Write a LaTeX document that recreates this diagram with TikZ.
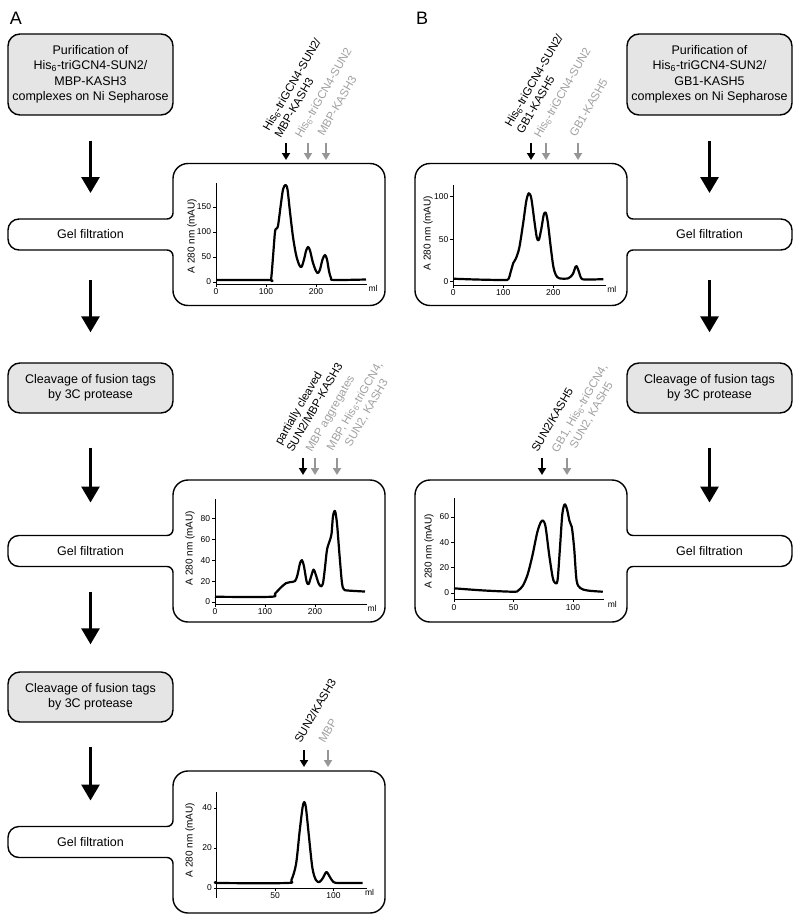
\documentclass[tikz,border=0pt]{standalone}
\usepackage{fontspec}
\setmainfont{Liberation Sans}
\usetikzlibrary{arrows.meta,calc,positioning}
\definecolor{boxgray}{RGB}{229,229,229}
\definecolor{taggray}{RGB}{160,160,160}
\definecolor{pkgray}{RGB}{150,150,150}

\begin{document}
\begin{tikzpicture}[x=1pt, y=-1pt,
    stepbox/.style={draw, fill=boxgray, line width=1.4pt, rounded corners=12pt, minimum width=165pt, minimum height=81pt, inner sep=0pt, align=center, font=\fontsize{12.5}{15.5}\selectfont},
    gelbox/.style={minimum width=165pt, minimum height=31pt, inner sep=0pt, outer sep=0pt, font=\fontsize{12.5}{15.5}\selectfont},
    chartbox/.style={minimum width=212pt, minimum height=142pt, inner sep=0pt, outer sep=0pt},
    outline/.style={line width=1.4pt},
    flow/.style={line width=3pt, -{Triangle[width=18pt,length=16pt]}},
    peak/.style={line width=2pt, -{Triangle[width=8pt,length=7pt]}},
    peaklab/.style={rotate=60, inner sep=0pt, font=\fontsize{11.5}{13.5}\selectfont},
    axisline/.style={line width=0.9pt},
    trace/.style={line width=2.2pt, line join=round},
    ticklab/.style={font=\fontsize{8.5}{10}\selectfont, inner sep=1.5pt},
    axlabel/.style={rotate=90, inner sep=0pt, font=\fontsize{10}{12}\selectfont},
    panellab/.style={font=\fontsize{18}{20}\selectfont}]
  \useasboundingbox (0,0) rectangle (800,923);

  \node[panellab] (labA) at (16,18) {A};
  \node[panellab] (labB) at (422,18) {B};

  % column A
  \node[stepbox] (purA) at (90.5,74.5) {Purification of\\His\textsubscript{6}-triGCN4-SUN2/\\MBP-KASH3\\complexes on Ni Sepharose};
  \node[gelbox] (gelA1) at (90.5,234.5) {Gel filtration};
  \node[chartbox, right=0pt of gelA1] (chartA1) {};
  \node[stepbox, minimum height=50pt] (cutA1) at (90.5,388) {Cleavage of fusion tags\\by 3C protease};
  \node[gelbox] (gelA2) at (90.5,551) {Gel filtration};
  \node[chartbox, right=0pt of gelA2] (chartA2) {};
  \node[stepbox, minimum height=50pt] (cutA2) at (90.5,697) {Cleavage of fusion tags\\by 3C protease};
  \node[gelbox] (gelA3) at (90.5,842) {Gel filtration};
  \node[chartbox, right=0pt of gelA3] (chartA3) {};

  % column B
  \node[stepbox] (purB) at (709.5,74.5) {Purification of\\His\textsubscript{6}-triGCN4-SUN2/\\GB1-KASH5\\complexes on Ni Sepharose};
  \node[gelbox] (gelB1) at (709.5,234.5) {Gel filtration};
  \node[chartbox, left=0pt of gelB1] (chartB1) {};
  \node[stepbox, minimum height=50pt] (cutB) at (709.5,388) {Cleavage of fusion tags\\by 3C protease};
  \node[gelbox] (gelB2) at (709.5,551) {Gel filtration};
  \node[chartbox, left=0pt of gelB2] (chartB2) {};

  % outlines of gel box + chart
  \draw[outline] (chartA1.north) [rounded corners=15pt] -- (chartA1.north east) -- (chartA1.south east) -- (chartA1.south west) -- ($(chartA1.south west)!.5!(chartA1.west |- gelA1.south)$) [rounded corners=6pt] -- (chartA1.west |- gelA1.south) -- (gelA1.south) [rounded corners=11pt] -- (gelA1.south west) -- (gelA1.north west) -- (gelA1.north) [rounded corners=6pt] -- (chartA1.west |- gelA1.north) -- ($(chartA1.north west)!.5!(chartA1.west |- gelA1.north)$) [rounded corners=15pt] -- (chartA1.north west) -- cycle;
  \draw[outline] (chartA2.north) [rounded corners=15pt] -- (chartA2.north east) -- (chartA2.south east) -- (chartA2.south west) -- ($(chartA2.south west)!.5!(chartA2.west |- gelA2.south)$) [rounded corners=6pt] -- (chartA2.west |- gelA2.south) -- (gelA2.south) [rounded corners=11pt] -- (gelA2.south west) -- (gelA2.north west) -- (gelA2.north) [rounded corners=6pt] -- (chartA2.west |- gelA2.north) -- ($(chartA2.north west)!.5!(chartA2.west |- gelA2.north)$) [rounded corners=15pt] -- (chartA2.north west) -- cycle;
  \draw[outline] (chartA3.north) [rounded corners=15pt] -- (chartA3.north east) -- (chartA3.south east) -- (chartA3.south west) -- ($(chartA3.south west)!.5!(chartA3.west |- gelA3.south)$) [rounded corners=6pt] -- (chartA3.west |- gelA3.south) -- (gelA3.south) [rounded corners=11pt] -- (gelA3.south west) -- (gelA3.north west) -- (gelA3.north) [rounded corners=6pt] -- (chartA3.west |- gelA3.north) -- ($(chartA3.north west)!.5!(chartA3.west |- gelA3.north)$) [rounded corners=15pt] -- (chartA3.north west) -- cycle;
  \draw[outline] (chartB1.north) [rounded corners=15pt] -- (chartB1.north east) -- ($(chartB1.north east)!.5!(chartB1.east |- gelB1.north)$) [rounded corners=6pt] -- (chartB1.east |- gelB1.north) -- (gelB1.north) [rounded corners=11pt] -- (gelB1.north east) -- (gelB1.south east) -- (gelB1.south) [rounded corners=6pt] -- (chartB1.east |- gelB1.south) -- ($(chartB1.south east)!.5!(chartB1.east |- gelB1.south)$) [rounded corners=15pt] -- (chartB1.south east) -- (chartB1.south west) -- (chartB1.north west) -- cycle;
  \draw[outline] (chartB2.north) [rounded corners=15pt] -- (chartB2.north east) -- ($(chartB2.north east)!.5!(chartB2.east |- gelB2.north)$) [rounded corners=6pt] -- (chartB2.east |- gelB2.north) -- (gelB2.north) [rounded corners=11pt] -- (gelB2.north east) -- (gelB2.south east) -- (gelB2.south) [rounded corners=6pt] -- (chartB2.east |- gelB2.south) -- ($(chartB2.south east)!.5!(chartB2.east |- gelB2.south)$) [rounded corners=15pt] -- (chartB2.south east) -- (chartB2.south west) -- (chartB2.north west) -- cycle;

  % flow arrows
  \draw[flow, shorten <=25pt, shorten >=26pt] (purA) -- (gelA1);
  \draw[flow, shorten <=30pt, shorten >=30pt] (gelA1) -- (cutA1);
  \draw[flow, shorten <=34pt, shorten >=33pt] (cutA1) -- (gelA2);
  \draw[flow, shorten <=25pt, shorten >=27pt] (gelA2) -- (cutA2);
  \draw[flow, shorten <=24pt, shorten >=26pt] (cutA2) -- (gelA3);
  \draw[flow, shorten <=25pt, shorten >=26pt] (purB) -- (gelB1);
  \draw[flow, shorten <=30pt, shorten >=30pt] (gelB1) -- (cutB);
  \draw[flow, shorten <=34pt, shorten >=33pt] (cutB) -- (gelB2);

  % chart A1
  \begin{scope}[shift={(216,282)}, x=0.5pt, y=0.5pt]
    \draw[axisline] (0,-4) -- (302,-4);
    \draw[axisline] (0,-4) -- (0,198);
    \foreach \v in {0,50,100,150}
      \draw[axisline] (0,\v) -- ++(-3pt,0pt) node[ticklab, left] (yA1-\v) {\v};
    \foreach \v in {0,100,200}
      \draw[axisline] (\v,-4) -- ++(0pt,-3pt) node[ticklab, below] (xA1-\v) {\v};
    \node[ticklab, below] (mlA1) at (314,-4) {ml};
    \draw[trace] plot[smooth, tension=0.5] coordinates {(0,4) (105,4) (110,5) (114,50) (118,100) (121,107) (124,112) (129,150) (134,185) (139,194) (143,185) (148,140) (154,90) (160,55) (166,35) (171,30) (176,45) (180,62) (184,70) (188,63) (194,38) (200,22) (204,18) (208,25) (213,45) (218,54) (222,45) (226,22) (230,8) (236,4) (300,5)};
  \end{scope}
  \node[axlabel] (ylA1) at (192,236) {A 280 nm (mAU)};

  % chart A2
  \begin{scope}[shift={(215,602)}, x=0.5pt, y=1.046pt]
    \draw[axisline] (0,-2) -- (304,-2);
    \draw[axisline] (0,-2) -- (0,98);
    \foreach \v in {0,20,40,60,80}
      \draw[axisline] (0,\v) -- ++(-3pt,0pt) node[ticklab, left] (yA2-\v) {\v};
    \foreach \v in {0,100,200}
      \draw[axisline] (\v,-2) -- ++(0pt,-3pt) node[ticklab, below] (xA2-\v) {\v};
    \node[ticklab, below] (mlA2) at (314,-2) {ml};
    \draw[trace] plot[smooth, tension=0.5] coordinates {(0,5) (112,5) (120,8) (132,14) (142,18) (150,19) (160,20) (165,26) (170,37) (174,40) (178,34) (183,20) (187,17) (192,24) (197,31) (201,27) (207,18) (212,15) (216,18) (220,33) (224,50) (229,58) (233,65) (236,82) (240,87) (244,75) (249,45) (254,18) (258,12) (265,11) (300,10)};
  \end{scope}
  \node[axlabel] (ylA2) at (190,548) {A 280 nm (mAU)};

  % chart A3
  \begin{scope}[shift={(216.7,888)}, x=1.167pt, y=2pt]
    \draw[axisline] (0,0) -- (129,0);
    \draw[axisline] (0,-5) -- (0,48);
    \foreach \v in {0,20,40}
      \draw[axisline] (0,\v) -- ++(-3pt,0pt) node[ticklab, left] (yA3-\v) {\v};
    \foreach \v in {50,100}
      \draw[axisline] (\v,0) -- ++(0pt,-3pt) node[ticklab, below] (xA3-\v) {\v};
    \node[ticklab, below] (mlA3) at (131,0) {ml};
    \draw[trace] plot[smooth, tension=0.5] coordinates {(0,3) (3,2.5) (60,2.5) (64,4) (68,12) (71,28) (73.5,40) (75,43) (76.5,40) (79,26) (82,10) (85,4) (88,3) (91,5) (94,8) (97,5.5) (100,3) (105,2.5) (125,2.5)};
  \end{scope}
  \node[axlabel] (ylA3) at (190,840) {A 280 nm (mAU)};

  % chart B1
  \begin{scope}[shift={(453.3,281.7)}, x=0.5pt, y=0.85pt]
    \draw[axisline] (0,-4) -- (306,-4);
    \draw[axisline] (0,-4) -- (0,114);
    \foreach \v in {0,50,100}
      \draw[axisline] (0,\v) -- ++(-3pt,0pt) node[ticklab, left] (yB1-\v) {\v};
    \foreach \v in {0,100,200}
      \draw[axisline] (\v,-4) -- ++(0pt,-3pt) node[ticklab, below] (xB1-\v) {\v};
    \node[ticklab, below] (mlB1) at (317,-4) {ml};
    \draw[trace] plot[smooth, tension=0.5] coordinates {(0,3.5) (50,2.5) (100,2) (110,3) (115,12) (120,22) (125,27) (132,40) (140,70) (146,95) (151,104) (156,98) (162,72) (167,52) (171,49) (176,62) (181,79) (185,81) (189,70) (195,40) (200,18) (205,8) (212,4) (230,4) (239,9) (244,17) (247,18) (251,12) (256,4) (265,2.5) (300,3)};
  \end{scope}
  \node[axlabel] (ylB1) at (428,233) {A 280 nm (mAU)};

  % chart B2
  \begin{scope}[shift={(454,593)}, x=1.19pt, y=1.267pt]
    \draw[axisline] (0,-5) -- (126,-5);
    \draw[axisline] (0,-5) -- (0,75);
    \foreach \v in {0,20,40,60}
      \draw[axisline] (0,\v) -- ++(-3pt,0pt) node[ticklab, left] (yB2-\v) {\v};
    \foreach \v in {0,50,100}
      \draw[axisline] (\v,-5) -- ++(0pt,-3pt) node[ticklab, below] (xB2-\v) {\v};
    \node[ticklab, below] (mlB2) at (133,-5) {ml};
    \draw[trace] plot[smooth, tension=0.5] coordinates {(0,3.7) (25,2) (50,1) (54,2) (58,6) (62,15) (66,30) (70,48) (73,56) (75,57) (77,52) (80,30) (83,12) (85,8) (87,10) (89,35) (91,62) (93,70) (95,66) (97,57) (99,52) (101,35) (103,10) (106,4) (112,2) (125,1)};
  \end{scope}
  \node[axlabel] (ylB2) at (429,551) {A 280 nm (mAU)};

  % peak arrows
  \foreach \n/\x/\y/\c in {A1a/286/143/black, A1b/308/143/pkgray, A1c/326/143/pkgray,
      A2a/303/458/black, A2b/315/458/pkgray, A2c/337/458/pkgray,
      A3a/304/750/black, A3b/328/750/pkgray,
      B1a/531/143/black, B1b/546/143/pkgray, B1c/578/143/pkgray,
      B2a/542/458/black, B2b/567/458/pkgray}{
    \coordinate (top\n) at (\x,\y);
    \coordinate (tip\n) at (\x,\y+17);
    \draw[peak, \c] (top\n) -- (tip\n);
  }

  % peak labels
  \node[peaklab, anchor=south west, align=left] (labA1a) at ([xshift=-5pt,yshift=4pt]topA1a) {His\textsubscript{6}-triGCN4-SUN2/\\MBP-KASH3};
  \node[peaklab, anchor=south west, text=taggray] (labA1b) at ([xshift=-5pt,yshift=3pt]topA1b) {His\textsubscript{6}-triGCN4-SUN2};
  \node[peaklab, anchor=south west, text=taggray] (labA1c) at ([xshift=-2pt,yshift=6pt]topA1c) {MBP-KASH3};
  \node[peaklab, anchor=south west, align=left] (labA2a) at ([xshift=-10pt,yshift=5pt]topA2a) {partially cleaved\\SUN2/MBP-KASH3};
  \node[peaklab, anchor=south west, text=taggray] (labA2b) at ([xshift=-1pt,yshift=4pt]topA2b) {MBP aggregates};
  \node[peaklab, anchor=south west, align=center, text=taggray] (labA2c) at ([xshift=9pt,yshift=-1pt]topA2c) {MBP, His\textsubscript{6}-triGCN4,\\SUN2, KASH3};
  \node[peaklab, anchor=south west] (labA3a) at ([xshift=-3pt,yshift=6pt]topA3a) {SUN2/KASH3};
  \node[peaklab, anchor=south west, text=taggray] (labA3b) at ([xshift=-3pt,yshift=6pt]topA3b) {MBP};
  \node[peaklab, anchor=south west, align=left] (labB1a) at ([xshift=-8pt,yshift=8pt]topB1a) {His\textsubscript{6}-triGCN4-SUN2/\\GB1-KASH5};
  \node[peaklab, anchor=south west, text=taggray] (labB1b) at ([xshift=-4pt,yshift=3pt]topB1b) {His\textsubscript{6}-triGCN4-SUN2};
  \node[peaklab, anchor=south west, text=taggray] (labB1c) at ([xshift=-2pt,yshift=5pt]topB1c) {GB1-KASH5};
  \node[peaklab, anchor=south west] (labB2a) at ([xshift=-4pt,yshift=5pt]topB2a) {SUN2/KASH5};
  \node[peaklab, anchor=south west, align=center, text=taggray] (labB2b) at ([xshift=4pt,yshift=-3pt]topB2b) {GB1, His\textsubscript{6}-triGCN4,\\SUN2, KASH5};
\end{tikzpicture}
\end{document}
